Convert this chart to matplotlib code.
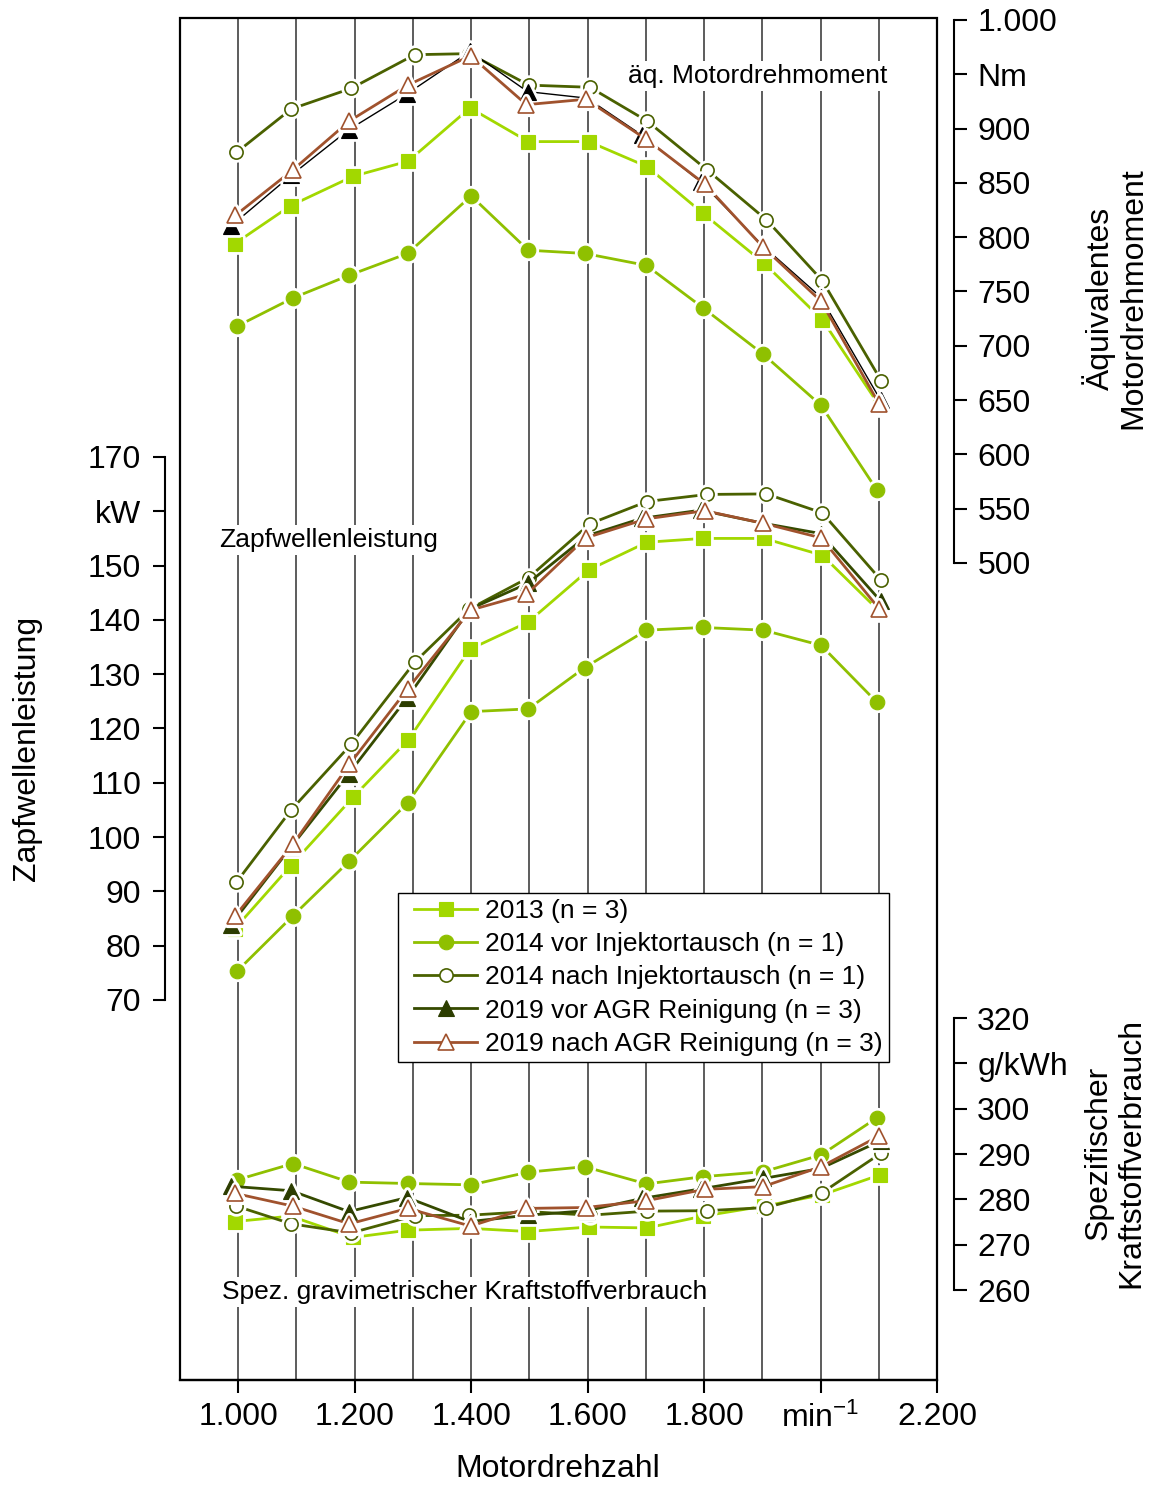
import matplotlib
matplotlib.use("Agg")
import matplotlib.pyplot as plt
from matplotlib.lines import Line2D
from matplotlib.markers import MarkerStyle
from matplotlib.patches import Rectangle
from matplotlib.ticker import FixedLocator, FixedFormatter
from matplotlib.legend_handler import HandlerLine2D

plt.rcParams['font.family'] = ['Liberation Sans', 'DejaVu Sans']
plt.rcParams['mathtext.fontset'] = 'custom'
plt.rcParams['mathtext.rm'] = 'Liberation Sans'
plt.rcParams['mathtext.it'] = 'Liberation Sans:italic'
plt.rcParams['mathtext.bf'] = 'Liberation Sans:bold'

# ---------------------------------------------------------------- data
series_labels = [
    "2013 (n = 3)",
    "2014 vor Injektortausch (n = 1)",
    "2014 nach Injektortausch (n = 1)",
    "2019 vor AGR Reinigung (n = 3)",
    "2019 nach AGR Reinigung (n = 3)",
]

# measured engine speed (min^-1) of each operating point
speed_2013 = [994, 1090, 1197, 1292, 1398, 1498, 1602, 1702, 1798, 1903, 2003, 2102]
speed_2014_vor = [998, 1094, 1191, 1291, 1400, 1498, 1595, 1701, 1798, 1902, 2001, 2097]
speed_2014_nach = [997, 1091, 1194, 1303, 1397, 1499, 1604, 1702, 1805, 1907, 2003, 2104]
speed_2019_vor = [987, 1091, 1190, 1290, 1398, 1497, 1599, 1693, 1794, 1901, 2000, 2103]
speed_2019_nach = [995, 1094, 1191, 1291, 1399, 1495, 1597, 1701, 1801, 1901, 2001, 2101]

# equivalent engine torque (Nm)
torque_2013 = [794, 829, 856, 870, 919, 888, 888, 865, 822, 776, 724, 644]
torque_2014_vor = [718, 744, 765, 785, 838, 788, 785, 774, 735, 692, 645, 567]
torque_2014_nach = [878, 918, 937, 968, 969, 940, 938, 907, 862, 816, 760, 668]
torque_2019_vor = [810, 857, 899, 932, 971, 934, 928, 894, 851, 792, 745, 650]
torque_2019_nach = [820, 862, 907, 940, 967, 922, 927, 890, 849, 791, 741, 646]

# PTO power (kW)
power_2013 = [83.1, 94.7, 107.3, 117.9, 134.6, 139.6, 149.2, 154.3, 155.0, 155.0, 151.9, 141.5]
power_2014_vor = [75.3, 85.5, 95.6, 106.3, 123.1, 123.6, 131.2, 138.1, 138.6, 138.1, 135.3, 124.8]
power_2014_nach = [91.7, 105.0, 117.1, 132.2, 142.0, 147.8, 157.7, 161.8, 163.1, 163.2, 159.7, 147.3]
power_2019_vor = [83.8, 98.2, 111.7, 125.6, 142.0, 146.7, 155.5, 158.7, 160.2, 157.8, 155.9, 143.5]
power_2019_nach = [85.5, 98.7, 113.4, 127.3, 141.8, 144.7, 155.1, 158.6, 160.1, 157.8, 155.1, 142.0]

# specific fuel consumption (g/kWh)
fuel_2013 = [275.1, 276.3, 271.6, 273.2, 273.6, 272.9, 273.9, 273.7, 276.3, 278.5, 281.0, 285.4]
fuel_2014_vor = [284.3, 287.9, 283.8, 283.5, 283.2, 286.0, 287.2, 283.4, 285.0, 286.1, 289.8, 298.0]
fuel_2014_nach = [278.5, 274.6, 272.6, 276.4, 276.5, 277.3, 276.5, 277.4, 277.5, 278.2, 281.5, 290.2]
fuel_2019_vor = [282.9, 281.9, 277.3, 280.4, 275.1, 276.5, 277.5, 280.2, 282.3, 284.6, 286.8, 292.9]
fuel_2019_nach = [281.3, 278.5, 274.6, 278.0, 274.1, 278.0, 278.2, 279.7, 282.2, 282.8, 287.2, 294.0]

grid_speeds = [1000, 1100, 1200, 1300, 1400, 1500, 1600, 1700, 1800, 1900, 2000, 2100]
x_ticks = [1000, 1200, 1400, 1600, 1800, 2000, 2200]
x_ticklabels = ["1.000", "1.200", "1.400", "1.600", "1.800", "min$^{-1}$", "2.200"]
power_ticks = [70, 80, 90, 100, 110, 120, 130, 140, 150, 160, 170]
power_ticklabels = ["70", "80", "90", "100", "110", "120", "130", "140", "150", "kW", "170"]
torque_ticks = [500, 550, 600, 650, 700, 750, 800, 850, 900, 950, 1000]
torque_ticklabels = ["500", "550", "600", "650", "700", "750", "800", "850", "900", "Nm", "1.000"]
fuel_ticks = [260, 270, 280, 290, 300, 310, 320]
fuel_ticklabels = ["260", "270", "280", "290", "300", "g/kWh", "320"]

# ---------------------------------------------------------------- styles
styles = [
    dict(color="#a2d800", marker="s", ms=9.5, mfc="#a2d800", mec="#a2d800", mew=0.8, lw=2.0),
    dict(color="#8fc000", marker="o", ms=10.5, mfc="#8fc000", mec="#8fc000", mew=0.8, lw=2.0),
    dict(color="#4a6100", marker="o", ms=9.5, mfc="white", mec="#4a6100", mew=1.2, lw=2.0),
    dict(color="#354a00", marker="^", ms=11, mfc="#2c3d00", mec="#2c3d00", mew=0.8, lw=2.0),
    dict(color="#a0522d", marker="^", ms=11, mfc="white", mec="#a0522d", mew=1.2, lw=2.0),
]
# torque curve of the 2019 "vor" series is drawn in black with a thin line
torque_override = {3: dict(color="black", mfc="black", mec="black", lw=1.0)}

speeds = [speed_2013, speed_2014_vor, speed_2014_nach, speed_2019_vor, speed_2019_nach]
torques = [torque_2013, torque_2014_vor, torque_2014_nach, torque_2019_vor, torque_2019_nach]
powers = [power_2013, power_2014_vor, power_2014_nach, power_2019_vor, power_2019_nach]
fuels = [fuel_2013, fuel_2014_vor, fuel_2014_nach, fuel_2019_vor, fuel_2019_nach]

W, H = 1159, 1487
fig = plt.figure(figsize=(W / 100, H / 100), dpi=100)
ax_left, ax_right, ax_top, ax_bottom = 180, 937, 18, 1380
ax = fig.add_axes([ax_left / W, 1 - ax_bottom / H, (ax_right - ax_left) / W, (ax_bottom - ax_top) / H])
ax_t = ax.twinx()
ax_f = ax.twinx()

ax.set_xlim(900, 2200)
ax.set_ylim(0, 250.85)
ax_t.set_ylim(-252.3, 1001.8)
ax_f.set_ylim(240.15, 540.6)

FS_TICK = 23
FS_TEXT = 19


def draw_series(axis, x, y, st, z):
    axis.plot(x, y, color=st["color"], lw=st["lw"], zorder=z, solid_capstyle="butt")
    halo = MarkerStyle(st["marker"], joinstyle="round")
    axis.plot(x, y, ls="none", marker=halo, ms=st["ms"], mfc="white", mec="white",
              mew=st["mew"] + 4.0, zorder=z + 0.1)
    axis.plot(x, y, ls="none", marker=st["marker"], ms=st["ms"], mfc=st["mfc"], mec=st["mec"],
              mew=st["mew"], zorder=z + 0.2)


for i in range(5):
    st = styles[i]
    z = 3 + i
    draw_series(ax, speeds[i], powers[i], st, z)
    st_t = dict(st, **torque_override.get(i, {}))
    draw_series(ax_t, speeds[i], torques[i], st_t, z)
    draw_series(ax_f, speeds[i], fuels[i], st, z)

# vertical grid lines
for s in grid_speeds:
    ax.axvline(s, color="#303030", lw=1.1, zorder=0.5)

# frame
ax.add_patch(Rectangle((0, 0), 1, 1, transform=ax.transAxes, fill=False, ec="black",
                       lw=1.6, clip_on=False, zorder=20))
for side in ("top", "right"):
    ax.spines[side].set_visible(False)
ax.spines["bottom"].set_linewidth(1.6)
ax.spines["left"].set_position(("outward", 11))
ax.spines["left"].set_bounds(70, 170)
ax.spines["left"].set_linewidth(1.5)

# x axis
ax.xaxis.set_major_locator(FixedLocator(x_ticks))
ax.xaxis.set_major_formatter(FixedFormatter(x_ticklabels))
ax.tick_params(axis="x", direction="out", length=9, width=1.5, labelsize=FS_TICK, pad=7)

# left power axis
ax.yaxis.set_major_locator(FixedLocator(power_ticks))
ax.yaxis.set_major_formatter(FixedFormatter(power_ticklabels))
ax.tick_params(axis="y", direction="out", length=9, width=1.5, labelsize=FS_TICK, pad=8)

# right axes
for axis, ticks, labels, bounds in (
    (ax_t, torque_ticks, torque_ticklabels, (500, 1000)),
    (ax_f, fuel_ticks, fuel_ticklabels, (260, 320)),
):
    for side in ("left", "top", "bottom"):
        axis.spines[side].set_visible(False)
    axis.spines["right"].set_position(("outward", 12))
    axis.spines["right"].set_bounds(*bounds)
    axis.spines["right"].set_linewidth(1.5)
    axis.yaxis.set_major_locator(FixedLocator(ticks))
    axis.yaxis.set_major_formatter(FixedFormatter(labels))
    axis.tick_params(axis="y", direction="out", length=9, width=1.5, labelsize=FS_TICK, pad=8)

# panel captions
box = dict(facecolor="white", edgecolor="none", pad=2)
ax.text((628 - ax_left) / (ax_right - ax_left), (ax_bottom - 76) / (ax_bottom - ax_top),
        "äq. Motordrehmoment", transform=ax.transAxes, ha="left", va="center",
        fontsize=FS_TEXT, bbox=box, zorder=2)
ax.text((219 - ax_left) / (ax_right - ax_left), (ax_bottom - 540) / (ax_bottom - ax_top),
        "Zapfwellenleistung", transform=ax.transAxes, ha="left", va="center",
        fontsize=FS_TEXT, bbox=box, zorder=2)
ax.text((222 - ax_left) / (ax_right - ax_left), (ax_bottom - 1292) / (ax_bottom - ax_top),
        "Spez. gravimetrischer Kraftstoffverbrauch", transform=ax.transAxes, ha="left",
        va="center", fontsize=FS_TEXT, bbox=box, zorder=2)

# axis titles
fig.text(27 / W, 1 - 748 / H, "Zapfwellenleistung", rotation=90, ha="center", va="center",
         fontsize=FS_TICK)
fig.text(1115 / W, 1 - 298 / H, "Äquivalentes\nMotordrehmoment", rotation=90, ha="center",
         va="center", multialignment="center", fontsize=FS_TICK, linespacing=1.1)
fig.text(1115 / W, 1 - 1153 / H, "Spezifischer\nKraftstoffverbrauch", rotation=90, ha="center",
         va="center", multialignment="center", fontsize=FS_TICK, linespacing=1.1)
fig.text(558 / W, 1 - 1469 / H, "Motordrehzahl", ha="center", va="center", fontsize=FS_TICK)

# legend
handles = [Line2D([], [], color=st["color"], lw=st["lw"], marker=st["marker"], ms=st["ms"],
                  mfc=st["mfc"], mec=st["mec"], mew=st["mew"]) for st in styles]
leg = fig.legend(handles, series_labels, loc="upper left",
                 bbox_to_anchor=(398 / W, 1 - 893 / H), frameon=True, fancybox=False,
                 edgecolor="black", framealpha=1, fontsize=FS_TEXT, handlelength=2.78,
                 handletextpad=0.3, labelspacing=0.35, borderpad=0.22, borderaxespad=0,
                 numpoints=1, handler_map={Line2D: HandlerLine2D(xpad=0.39)})
leg.get_frame().set_linewidth(1.0)
leg.set_zorder(30)

fig.savefig("out.png", dpi=100)
